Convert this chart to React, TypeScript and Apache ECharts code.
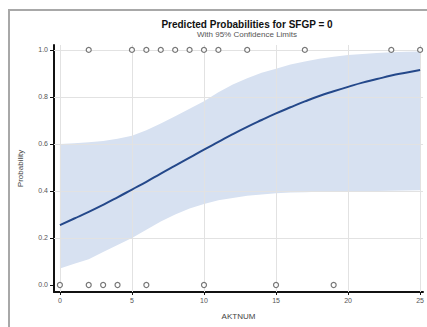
import React, { useEffect, useRef } from "react";
import * as echarts from "echarts";

const xValues = [0, 1, 2, 3, 4, 5, 6, 7, 8, 9, 10, 11, 12, 13, 14, 15, 16, 17, 18, 19, 20, 21, 22, 23, 24, 25];
const predicted = [0.255, 0.283, 0.311, 0.341, 0.373, 0.406, 0.439, 0.474, 0.508, 0.542, 0.576, 0.609, 0.642, 0.673, 0.702, 0.73, 0.756, 0.781, 0.804, 0.824, 0.843, 0.861, 0.876, 0.891, 0.903, 0.915];
const upperCL = [0.6, 0.603, 0.607, 0.613, 0.622, 0.635, 0.658, 0.687, 0.718, 0.75, 0.782, 0.82, 0.853, 0.88, 0.903, 0.92, 0.938, 0.951, 0.962, 0.971, 0.978, 0.983, 0.987, 0.99, 0.992, 0.993];
const lowerCL = [0.07, 0.09, 0.11, 0.14, 0.17, 0.2, 0.235, 0.27, 0.3, 0.325, 0.345, 0.36, 0.37, 0.38, 0.385, 0.39, 0.393, 0.395, 0.397, 0.398, 0.399, 0.4, 0.4, 0.401, 0.402, 0.403];
const obsOneX = [2, 5, 6, 7, 8, 9, 10, 11, 13, 17, 23, 25];
const obsZeroX = [0, 2, 3, 4, 6, 10, 15, 19];
const xTicks = [0, 5, 10, 15, 20, 25];
const yTicks = [0, 0.2, 0.4, 0.6, 0.8, 1.0];

export default function App() {
  const ref = useRef<HTMLDivElement>(null);
  useEffect(() => {
    document.body.style.margin = "0";
    const chart = echarts.init(ref.current!, null, { renderer: "svg" });
    const font = "Liberation Sans";
    chart.setOption({
      animation: false,
      backgroundColor: "#ffffff",
      title: {
        text: "Predicted Probabilities for SFGP = 0",
        subtext: "With 95% Confidence Limits",
        left: 242,
        textAlign: "center",
        top: 14,
        itemGap: 1,
        textStyle: { fontFamily: font, fontSize: 10, fontWeight: "bold", color: "#111" },
        subtextStyle: { fontFamily: font, fontSize: 8, color: "#555" },
      },
      graphic: [
        {
          type: "rect",
          shape: { x: 9, y: 10, width: 440, height: 340 },
          style: { fill: "none", stroke: "#a8a8a8", lineWidth: 2 },
          silent: true,
          z: -1,
        },
      ],
      grid: { left: 54, top: 45, right: 0, bottom: 35 },
      xAxis: {
        type: "value",
        min: -0.41,
        max: 25.2,
        name: "AKTNUM",
        nameLocation: "middle",
        nameGap: 20,
        nameTextStyle: { fontFamily: font, fontSize: 8, color: "#444" },
        axisLine: { show: true, onZero: false, lineStyle: { color: "#111", width: 2 } },
        axisTick: { show: true, customValues: xTicks, length: 3, lineStyle: { color: "#111" } },
        axisLabel: { customValues: xTicks, fontFamily: font, fontSize: 7, color: "#555", margin: 5, formatter: (v: number) => String(Math.round(v)) },
        splitLine: { show: false },
      },
      yAxis: {
        type: "value",
        min: -0.0298,
        max: 1.021,
        name: "Probability",
        nameLocation: "middle",
        nameGap: 30,
        nameTextStyle: { fontFamily: font, fontSize: 8, color: "#444" },
        axisLine: { show: true, onZero: false, lineStyle: { color: "#111", width: 2 } },
        axisTick: { show: true, customValues: yTicks, length: 4, lineStyle: { color: "#111" } },
        axisLabel: { customValues: yTicks, fontFamily: font, fontSize: 7, color: "#555", margin: 6, formatter: (v: number) => v.toFixed(1) },
        splitLine: { show: false },
      },
      series: [
        {
          type: "custom",
          name: "band",
          data: [[0, 0]],
          silent: true,
          clip: true,
          z: 1,
          renderItem: (params: any, api: any) => {
            const pts: number[][] = [];
            xValues.forEach((x, i) => pts.push(api.coord([x, upperCL[i]])));
            for (let i = xValues.length - 1; i >= 0; i--) pts.push(api.coord([xValues[i], lowerCL[i]]));
            const cs = params.coordSys;
            const children: any[] = [
              {
                type: "polygon",
                shape: { points: pts },
                style: { fill: "#d7e1f1", stroke: "none" },
              },
            ];
            xTicks.forEach((x) => {
              const p = api.coord([x, 0]);
              const px = Math.round(p[0]) + 0.5;
              children.push({
                type: "line",
                shape: { x1: px, y1: cs.y, x2: px, y2: cs.y + cs.height },
                style: { stroke: "#e2e2e2", lineWidth: 1 },
              });
            });
            yTicks.filter((y) => y > 0).forEach((y) => {
              const p = api.coord([0, y]);
              const py = Math.round(p[1]) + 0.5;
              children.push({
                type: "line",
                shape: { x1: cs.x, y1: py, x2: cs.x + cs.width, y2: py },
                style: { stroke: "#e2e2e2", lineWidth: 1 },
              });
            });
            return { type: "group", children };
          },
        },
        {
          type: "line",
          name: "predicted",
          data: xValues.map((x, i) => [x, predicted[i]]),
          symbol: "none",
          smooth: true,
          lineStyle: { color: "#24488a", width: 2 },
          z: 3,
        },
        {
          type: "scatter",
          name: "obs",
          data: [...obsOneX.map((x) => [x, 1]), ...obsZeroX.map((x) => [x, 0])],
          symbol: "circle",
          symbolSize: 5,
          itemStyle: { color: "#ffffff", borderColor: "#555", borderWidth: 1.2 },
          z: 4,
        },
      ],
    });
    return () => chart.dispose();
  }, []);
  return <div ref={ref} style={{ width: 427, height: 327 }} />;
}
